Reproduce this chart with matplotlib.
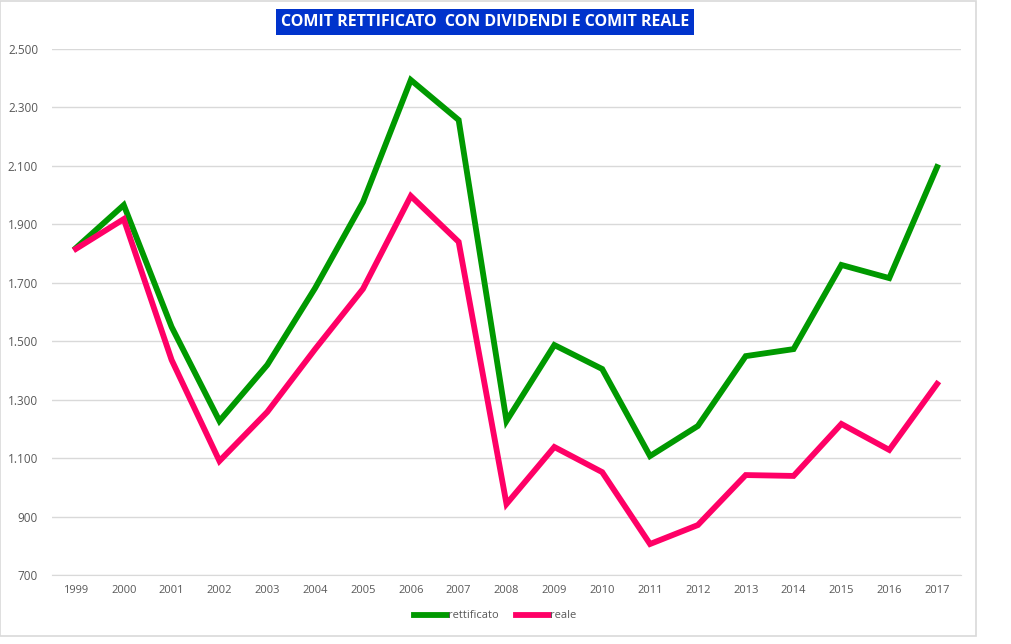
import matplotlib.pyplot as plt
from matplotlib.patches import Rectangle
from matplotlib.ticker import FuncFormatter

# dati
anni = list(range(1999, 2018))
rettificato = [1819, 1966, 1549, 1227, 1419, 1682, 1976, 2394, 2257, 1227,
               1487, 1405, 1107, 1210, 1449, 1473, 1761, 1716, 2096]
reale = [1816, 1918, 1436, 1090, 1258, 1473, 1679, 1997, 1840, 943,
         1138, 1052, 806, 871, 1042, 1039, 1217, 1128, 1354]
y_ticks = [700, 900, 1100, 1300, 1500, 1700, 1900, 2100, 2300, 2500]

plt.rcParams['font.family'] = ['Open Sans', 'DejaVu Sans']

fig = plt.figure(figsize=(10.12, 6.44), dpi=100)
ax = fig.add_axes([52 / 1012, 1 - 575 / 644, 909 / 1012, 526 / 644])

ax.plot(anni, rettificato, color='#009900', linewidth=4.2, label='rettificato',
        solid_joinstyle='miter', zorder=3)
ax.plot(anni, reale, color='#FF0066', linewidth=4.2, label='reale',
        solid_joinstyle='miter', zorder=3)

ax.set_xlim(1998.5, 2017.5)
ax.set_ylim(700, 2500)
ax.set_xticks(anni)
ax.set_xticklabels([str(a) for a in anni], fontsize=8, color='#595959')
ax.set_yticks(y_ticks)
ax.yaxis.set_major_formatter(FuncFormatter(lambda v, p: f"{int(v):,}".replace(',', '.')))
ax.tick_params(axis='y', labelsize=8.5, labelcolor='#595959', length=0, pad=10)
ax.tick_params(axis='x', length=0, pad=7)
ax.grid(axis='y', color='#D9D9D9', linewidth=1)
ax.set_axisbelow(True)
for s in ['top', 'right', 'left']:
    ax.spines[s].set_visible(False)
ax.spines['bottom'].set_color('#D9D9D9')

# titolo con sfondo blu
fig.text(485 / 1012, 1 - 22 / 644, 'COMIT RETTIFICATO  CON DIVIDENDI E COMIT REALE',
         ha='center', va='center', fontsize=11.5, fontweight='bold', color='white',
         bbox=dict(boxstyle='square,pad=0.3', facecolor='#0033CC', edgecolor='none'))

leg = fig.legend(loc='center', bbox_to_anchor=(495 / 1012, 1 - 616 / 644), ncol=2,
                 frameon=False, fontsize=8, handlelength=3, handletextpad=0.1,
                 columnspacing=1.5)
for t in leg.get_texts():
    t.set_color('#595959')

# cornice del grafico
fig.patches.append(Rectangle((0.5 / 1012, 1 - 636 / 644), 975.5 / 1012, 635 / 644,
                             transform=fig.transFigure, fill=False,
                             edgecolor='#D9D9D9', linewidth=1.2))

fig.savefig('out.png', dpi=100)
